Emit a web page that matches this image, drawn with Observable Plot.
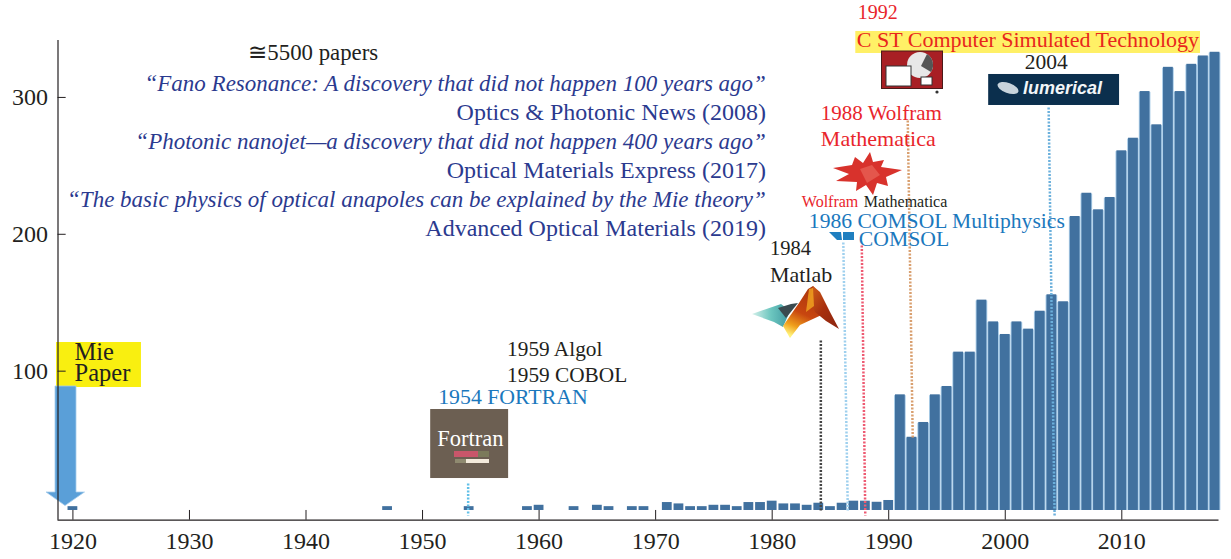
<!DOCTYPE html>
<html>
<head>
<meta charset="utf-8">
<script src="https://cdn.jsdelivr.net/npm/d3@7"></script>
<script src="https://cdn.jsdelivr.net/npm/@observablehq/plot@0.6"></script>
<style>html,body{margin:0;padding:0;background:#fff}svg{display:block;overflow:visible}</style>
</head>
<body>
<div id="chart"></div>
<script>
const years = [1920,1947,1954,1959,1960,1963,1965,1966,1968,1969,1971,1972,1973,1974,1975,1976,1977,1978,1979,1980,1981,1982,1983,1984,1985,1986,1987,1988,1989,1990,1991,1992,1993,1994,1995,1996,1997,1998,1999,2000,2001,2002,2003,2004,2005,2006,2007,2008,2009,2010,2011,2012,2013,2014,2015,2016,2017,2018];
const papers = [1,1,1,1,2,1,2,1,1,1,4,3,1,1,2,2,1,4,4,5,3,3,2,3.5,1,3.5,5,5,4.2,5.5,82.7,51.7,62.5,82.7,88.8,113.9,113.9,151.9,136,126.8,136,130.7,143.8,155.8,150.7,213,230,217.9,226.9,261,270.2,304.3,280,322,304.3,324.2,330.3,333];
const xTicks = [1920,1930,1940,1950,1960,1970,1980,1990,2000,2010];
const yTicks = [100,200,300];

const bars = years.map((year,i)=>({year, value:papers[i]}));

const X = p => 1920 + (p-72.4)/11.665;
const Y = p => (507.5-p)/1.3685;
const SERIF = "Liberation Serif";
const NAVY="#2b3a8f", RED="#e9252c", BLUE="#1b78bd", INK="#231f20";

const notesStart = [
 {t:"\u22455500 papers", px:248, py:52, c:INK, s:22.8},
 {t:"1992", px:858, py:12, c:RED, s:20},
 {t:"C ST Computer Simulated Technology", px:857, py:39, c:"#e8261c", s:22},
 {t:"2004", px:1025, py:62, c:INK, s:21.5},
 {t:"1988 Wolfram", px:821, py:113, c:RED, s:21},
 {t:"Mathematica", px:821, py:138, c:RED, s:22},
 {t:"Wolfram", px:802, py:201, c:RED, s:16},
 {t:"Mathematica", px:864, py:201, c:INK, s:16},
 {t:"1986 COMSOL Multiphysics", px:809, py:221, c:BLUE, s:21.6},
 {t:"COMSOL", px:859, py:239, c:BLUE, s:21.7},
 {t:"1984", px:770, py:248, c:INK, s:20.5},
 {t:"Matlab", px:770, py:274, c:INK, s:22},
 {t:"1959 Algol", px:507, py:349, c:INK, s:21.3},
 {t:"1959 COBOL", px:507, py:375, c:INK, s:21.3},
 {t:"1954 FORTRAN", px:438, py:397, c:BLUE, s:21.8},
 {t:"Mie", px:74, py:352, c:INK, s:24.5},
 {t:"Paper", px:74, py:373, c:INK, s:24.5},
 {t:"Fortran", px:437, py:438, c:"#fff", s:22.5}
];
const journals = [
 {t:"Optics & Photonic News (2008)", py:112},
 {t:"Optical Materials Express (2017)", py:170},
 {t:"Advanced Optical Materials (2019)", py:228}
];
const quotes = [
 {t:"\u201cFano Resonance: A discovery that did not happen 100 years ago\u201d", py:83},
 {t:"\u201cPhotonic nanojet\u2014a discovery that did not happen 400 years ago\u201d", py:141},
 {t:"\u201cThe basic physics of optical anapoles can be explained by the Mie theory\u201d", py:199}
];

const highlights = [
 {x1:X(56),x2:X(141),y1:Y(387),y2:Y(342),c:"#f9ef10"},
 {x1:X(856),x2:X(1201),y1:Y(53),y2:Y(31),c:"#fff066"},
 {x1:X(430.5),x2:X(508.5),y1:Y(478),y2:Y(409),c:"#6c5f52"},
 {x1:X(989),x2:X(1120),y1:Y(105),y2:Y(74),c:"#0b2f4d"}
];

const drops = [
 {x1:X(468),y1:Y(483),x2:X(468),y2:Y(515),c:"#62c0e8"},
 {x1:X(821),y1:Y(340),x2:X(821),y2:Y(510),c:"#444"},
 {x1:X(843.5),y1:Y(242),x2:X(848),y2:Y(510),c:"#9fd0ee"},
 {x1:X(862),y1:Y(245),x2:X(865.5),y2:Y(515),c:"#ee5a72"},
 {x1:X(908),y1:Y(120),x2:X(913),y2:Y(438),c:"#d9a070"},
 {x1:X(1049),y1:Y(107),x2:X(1055),y2:Y(516),c:"#6bb0dc"}
];

function logos(){
  const ns = d3.create("svg:g");
  const defs = ns.append("defs");
  const grad=(id,x1,y1,x2,y2,stops)=>{const g=defs.append("linearGradient").attr("id",id).attr("x1",x1).attr("y1",y1).attr("x2",x2).attr("y2",y2);
    stops.forEach(([o,c])=>g.append("stop").attr("offset",o).attr("stop-color",c));};
  grad("mA",0.7,0,0.3,1,[[0,"#a8340e"],[0.55,"#c8460f"],[0.82,"#f0a01c"],[1,"#fff27a"]]);
  grad("mB",0,0,1,1,[[0,"#d0601a"],[0.5,"#a8300e"],[1,"#8a2410"]]);
  grad("mT",0,0,1,0,[[0,"#d5f0ea"],[0.5,"#6cc6bf"],[1,"#3f98a0"]]);
  ns.append("path").attr("d","M55 386H76V492H84.5L65 505.5L46 492H55Z").attr("fill","#5a9fd8").attr("stroke","#a6cdec").attr("stroke-width",0.8);
  // Matlab
  ns.append("path").attr("d","M752 314L781 304L790 311L783 327L774 322Z").attr("fill","url(#mT)");
  ns.append("path").attr("d","M778 308L791 304L798 303L786 318Z").attr("fill","#3a4a4f");
  ns.append("path").attr("d","M783 326L799 303L808 289L813 286L820 294L828 312L800 325L790 338Z").attr("fill","url(#mA)");
  ns.append("path").attr("d","M813 286L820 292L830 312L839 329L826 321L815 312L810 300Z").attr("fill","url(#mB)");
  ns.append("path").attr("d","M809 289L813 288L814 306L806 312Z").attr("fill","#f0a020").attr("opacity",0.85);
  // Mathematica star
  ns.append("path").attr("d","M833 168L852 165L855 157L863 163L870 152L873 162L884 160L881 167L902 170L886 177L888 186L877 183L873 195L866 185L856 191L857 182L836 181L849 174Z").attr("fill","#d8322c");
  ns.append("path").attr("d","M860 169L872 165L880 175L867 183Z").attr("fill","#e4564c");
  // COMSOL
  ns.append("path").attr("d","M829 232H841L842 240H837Z M843 232H854V240H843Z").attr("fill","#1f7fc0");
  // CST
  ns.append("rect").attr("x",881.5).attr("y",51).attr("width",61).attr("height",37.5).attr("fill","#a81f24").attr("stroke","#4a1a1a");
  ns.append("circle").attr("cx",920).attr("cy",65).attr("r",13).attr("fill","#e8e8e8");
  ns.append("path").attr("d","M927 54A13 13 0 0 1 931 72L921 66Z").attr("fill","#555");
  ns.append("rect").attr("x",886).attr("y",66).attr("width",25).attr("height",20).attr("fill","#fff").attr("stroke","#333");
  ns.append("rect").attr("x",921).attr("y",77).attr("width",11).attr("height",8).attr("fill","#fff").attr("stroke","#333");
  ns.append("circle").attr("cx",937).attr("cy",92).attr("r",1.6).attr("fill","#333");
  // Fortran glyphs
  ns.append("rect").attr("x",454).attr("y",451).attr("width",24).attr("height",6).attr("fill","#c9566a");
  ns.append("rect").attr("x",478).attr("y",451).attr("width",11).attr("height",6).attr("fill","#7b7a5a");
  ns.append("rect").attr("x",455).attr("y",459).attr("width",11).attr("height",4).attr("fill","#8f8a70");
  ns.append("rect").attr("x",466).attr("y",459).attr("width",23).attr("height",4).attr("fill","#f3eadb");
  // Lumerical
  ns.append("ellipse").attr("cx",1008).attr("cy",88).attr("rx",11).attr("ry",5).attr("fill","#c8d4dc").attr("transform","rotate(20 1008 88)");
  ns.append("text").attr("x",1023).attr("y",94).text("lumerical").attr("font-family","Liberation Sans").attr("font-style","italic").attr("font-weight","bold").attr("font-size",18).attr("fill","#f2f6f8").attr("text-anchor","start");
  return ns.node();
}

const yBase = -1.8, yBottom = -8.9, xLeft = 1918.72;

const plot = Plot.plot({
  width: 1231, height: 559,
  marginLeft: 57.5, marginRight: 12.5, marginTop: 40, marginBottom: 39.3,
  style: {fontFamily: SERIF, background: "#fff", color: INK, overflow:"visible"},
  x: {domain:[xLeft, 2018.34], label:null, ticks:xTicks, tickFormat:d=>String(d)},
  y: {domain:[yBottom, 341.6], label:null, ticks:yTicks},
  marks: [
    Plot.rect(highlights, {x1:"x1",x2:"x2",y1:"y1",y2:"y2",fill:"c"}),
    Plot.rect(bars.filter(d=>d.value>20), {x1:d=>d.year-.5,x2:d=>d.year+.5,y1:yBase,y2:d=>d.value-0.6,fill:"#a9cce8"}),
    Plot.rect(bars, {x1:d=>d.year-.42,x2:d=>d.year+.42,y1:yBase,y2:"value",fill:"#41719f"}),
    logos,
    Plot.link(drops, {x1:"x1",y1:"y1",x2:"x2",y2:"y2",stroke:"c",strokeWidth:2.5,strokeDasharray:"2 1.5"}),
    Plot.ruleX(xTicks, {y1:yBottom,y2:yBase,stroke:INK,strokeWidth:1}),
    Plot.ruleY(yTicks, {x1:xLeft,x2:xLeft+0.7,stroke:INK,strokeWidth:1}),
    Plot.ruleX([xLeft], {stroke:INK,strokeWidth:1.2}),
    Plot.ruleY([yBottom], {stroke:INK,strokeWidth:1.2}),
    Plot.axisX({ticks:xTicks, tickSize:0, tickPadding:12, fontSize:24, tickFormat:d=>String(d), label:null}),
    Plot.axisY({ticks:yTicks, tickSize:0, tickPadding:10, fontSize:24, label:null}),
    Plot.text(notesStart, {x:d=>X(d.px),y:d=>Y(d.py),text:"t",textAnchor:"start",fill:"c",fontSize:"s",lineAnchor:"middle"}),
    Plot.text(journals, {x:X(766),y:d=>Y(d.py),text:"t",textAnchor:"end",fill:NAVY,fontSize:24,lineAnchor:"middle"}),
    Plot.text(quotes, {x:X(766),y:d=>Y(d.py),text:"t",textAnchor:"end",fill:NAVY,fontSize:23,fontStyle:"italic",lineAnchor:"middle"})
  ]
});
document.getElementById("chart").appendChild(plot);
</script>
</body>
</html>
